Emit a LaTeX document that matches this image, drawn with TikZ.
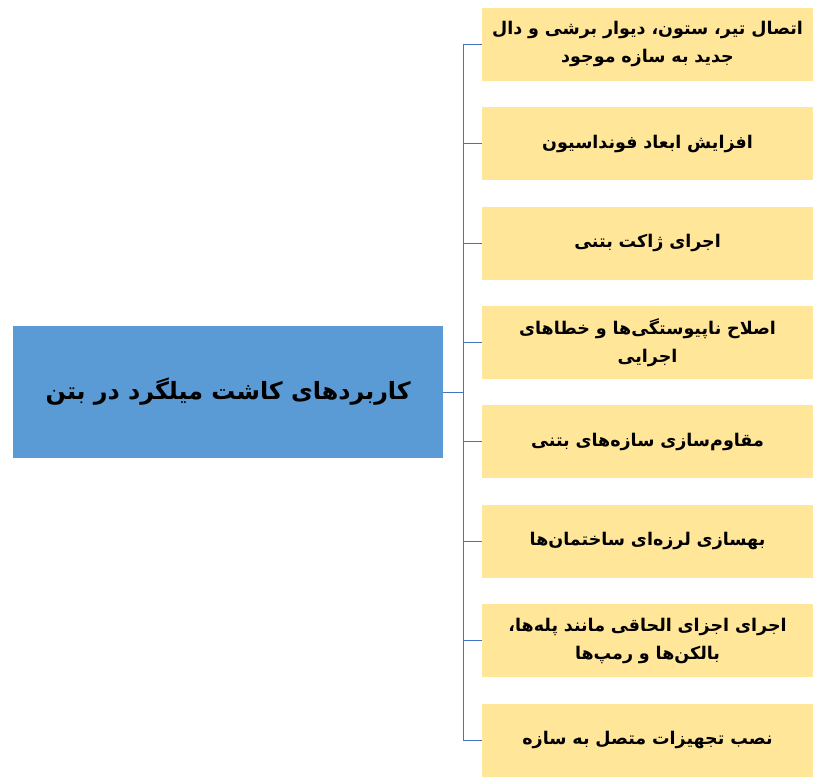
\documentclass[tikz,border=0pt]{standalone}
\usepackage{fontspec}
\newfontfamily\farsifont[Script=Arabic]{DejaVu Sans}
\TeXXeTstate=1
\newcommand\rtltext[1]{\beginR#1\endR}
\usetikzlibrary{positioning}
\definecolor{topicblue}{HTML}{5B9BD5}
\definecolor{itemgold}{HTML}{FFE699}
\definecolor{linkblue}{HTML}{4472C4}

\begin{document}
\begin{tikzpicture}[x=1pt, y=1pt, node distance = 26pt,
	item/.style = { rectangle, fill=itemgold, minimum height=73pt,
	minimum width=330pt, text width=324pt, align=center,
	font=\farsifont\bfseries\fontsize{17.5}{28}\selectfont },
	topic/.style = { rectangle, fill=topicblue, minimum height=132pt,
	minimum width=430pt, font=\farsifont\bfseries\fontsize{23.8}{28}\selectfont },
	link/.style = { draw=linkblue, line width=0.9pt } ]

  \useasboundingbox (0,0) rectangle (819,-784);
  \node [name=app1, item, anchor=north west] at (482,-7.5)
	{ \rtltext{اتصال تیر، ستون، دیوار برشی و دال}\\ \rtltext{جدید به سازه موجود} };
  \node [name=app2, item, below=of app1] { \rtltext{افزایش ابعاد فونداسیون} };
  \node [name=app3, item, below=of app2] { \rtltext{اجرای ژاکت بتنی} };
  \node [name=app4, item, below=of app3]
	{ \rtltext{اصلاح ناپیوستگی^^^^200cها و خطاهای}\\ \rtltext{اجرایی} };
  \node [name=app5, item, below=of app4] { \rtltext{مقاوم^^^^200cسازی سازه^^^^200cهای بتنی} };
  \node [name=app6, item, below=of app5] { \rtltext{بهسازی لرزه^^^^200cای ساختمان^^^^200cها} };
  \node [name=app7, item, below=of app6]
	{ \rtltext{اجرای اجزای الحاقی مانند پله^^^^200cها،}\\ \rtltext{بالکن^^^^200cها و رمپ^^^^200cها} };
  \node [name=app8, item, below=of app7] { \rtltext{نصب تجهیزات متصل به سازه} };
  \node [name=topic, topic, anchor=west] at (13,-392)
	{ \rtltext{کاربردهای کاشت میلگرد در بتن} };

  % trunk and branches
  \coordinate [name=hub, right=20pt of topic.east];
  \draw [link] (topic.east) -- (hub);
  \draw [link] (hub |- app1.west) -- (hub |- app8.west);
  \foreach \i in {1,...,8}
	\draw [link] (hub |- app\i.west) -- (app\i.west);
\end{tikzpicture}
\end{document}
